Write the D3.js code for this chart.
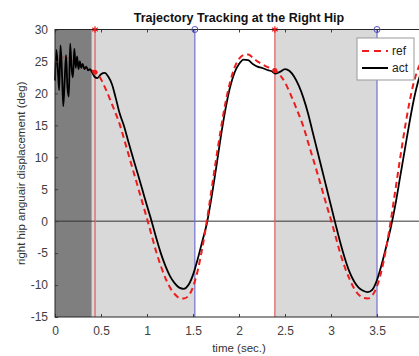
<!DOCTYPE html>
<html>
<head>
<meta charset="utf-8">
<script src="https://cdn.jsdelivr.net/npm/d3@7"></script>
<style>
  body { margin: 0; background: #fff; }
  svg { font-family: "Liberation Sans", Arial, sans-serif; }
  .tick text { fill: #404040; font-size: 12px; }
</style>
</head>
<body>
<div id="chart"></div>
<script>
/* DATA */
// reference trajectory (deg), sampled every 0.05 s
const refTime = d3.range(0, 81).map(i => i * 0.05);
const refAngle = [
  24.8, 25.5, 25.7, 25.5, 25.0, 24.6, 24.2, 23.8, 23.6, 23.2,
  22.2, 20.7, 19.0, 17.2, 15.3, 12.9, 10.4, 7.9, 5.4, 2.9,
  0.4, -2.2, -4.8, -7.0, -8.9, -10.4, -11.4, -12.0, -12.1, -11.7,
  -10.3, -7.8, -4.3, 0.0, 4.8, 9.6, 14.2, 18.3, 21.6, 24.0,
  25.4, 26.0, 26.1, 25.6, 25.0, 24.6, 24.2, 23.9, 23.5, 22.8,
  21.7, 20.2, 18.5, 16.7, 14.8, 12.4, 10.0, 7.6, 5.1, 2.6,
  0.2, -2.4, -5.0, -7.2, -9.0, -10.5, -11.5, -12.0, -12.1, -11.6,
  -10.2, -7.7, -4.2, 0.1, 4.9, 9.7, 14.3, 18.4, 21.7, 24.0, 25.4
];

// measured trajectory (deg)
const actTime = [
  0, 0.015, 0.03, 0.045, 0.06, 0.075, 0.09, 0.105, 0.12, 0.135,
  0.15, 0.165, 0.18, 0.195, 0.21, 0.225, 0.24, 0.255, 0.27, 0.285,
  0.30, 0.32, 0.34, 0.36, 0.38, 0.40, 0.43, 0.46, 0.50, 0.54,
  0.58, 0.62, 0.66, 0.70, 0.75, 0.80, 0.85, 0.90, 0.95, 1.00,
  1.05, 1.10, 1.15, 1.20, 1.25, 1.30, 1.35, 1.40, 1.45, 1.50,
  1.55, 1.60, 1.65, 1.70, 1.75, 1.80, 1.85, 1.90, 1.95, 2.00,
  2.05, 2.10, 2.15, 2.20, 2.25, 2.30, 2.35, 2.40, 2.45, 2.50,
  2.55, 2.60, 2.65, 2.70, 2.75, 2.80, 2.85, 2.90, 2.95, 3.00,
  3.05, 3.10, 3.15, 3.20, 3.25, 3.30, 3.35, 3.40, 3.45, 3.50,
  3.55, 3.60, 3.65, 3.70, 3.75, 3.80, 3.85, 3.90, 3.95, 4.00
];
const actAngle = [
  22.0, 26.8, 24.0, 20.5, 27.5, 23.5, 18.0, 22.0, 26.0, 21.0,
  19.5, 27.8, 24.0, 22.5, 27.0, 24.0, 25.8, 23.8, 25.0, 24.0,
  24.6, 23.8, 24.2, 23.6, 23.8, 23.4, 22.6, 22.4, 23.0, 23.2,
  22.6, 21.4, 19.3, 17.0, 14.9, 12.3, 9.8, 7.4, 4.9, 2.4,
  0.0, -2.6, -5.0, -7.0, -8.6, -9.7, -10.4, -10.6, -10.0, -8.4,
  -6.0, -3.2, -0.4, 3.6, 8.2, 13.0, 17.3, 20.8, 23.2, 24.6,
  25.3, 25.2, 24.6, 24.2, 24.0, 23.7, 23.5, 23.1, 23.4, 23.8,
  23.5, 22.6, 21.2, 19.3, 16.9, 14.0, 11.1, 8.2, 5.3, 2.4,
  -0.5, -3.3, -5.8, -7.9, -9.4, -10.4, -10.9, -11.1, -10.7, -9.2,
  -6.8, -4.0, -1.0, 2.6, 6.8, 11.0, 15.2, 19.0, 22.0, 24.0
];

// phase events (sec.)
const startTime = 0.4;          // end of the initial settling phase
const heelStrikes = [0.435, 2.39]; // red markers
const toeOffs = [1.52, 3.5];       // blue markers
const grayPhases = [[0.4, 1.52], [2.39, 3.5]];

const xTicks = [0, 0.5, 1, 1.5, 2, 2.5, 3, 3.5];
const yTicks = [-15, -10, -5, 0, 5, 10, 15, 20, 25, 30];

/* LAYOUT */
const width = 419,
  height = 356,
  margin = { top: 29.5, left: 55 },
  plotRight = 423,
  plotBottom = 317;

const svg = d3.select("#chart")
  .append("svg")
  .attr("width", width)
  .attr("height", height);

const xScale = d3.scaleLinear().domain([0, 4]).range([margin.left, plotRight]);
const yScale = d3.scaleLinear().domain([-15, 30]).range([plotBottom, margin.top]);

// background phases
svg.append("rect")
  .attr("x", xScale(0))
  .attr("y", yScale(30))
  .attr("width", xScale(startTime) - xScale(0))
  .attr("height", yScale(-15) - yScale(30))
  .attr("fill", "#7f7f7f");

svg.selectAll(".phase")
  .data(grayPhases)
  .join("rect")
  .attr("class", "phase")
  .attr("x", d => xScale(d[0]))
  .attr("y", yScale(30))
  .attr("width", d => xScale(d[1]) - xScale(d[0]))
  .attr("height", yScale(-15) - yScale(30))
  .attr("fill", "#d9d9d9");

// zero line
svg.append("line")
  .attr("x1", xScale(0)).attr("x2", xScale(4))
  .attr("y1", yScale(0)).attr("y2", yScale(0))
  .attr("stroke", "#333")
  .attr("stroke-width", 1);

// event lines
svg.selectAll(".hs")
  .data(heelStrikes)
  .join("line")
  .attr("class", "hs")
  .attr("x1", d => xScale(d)).attr("x2", d => xScale(d))
  .attr("y1", yScale(-15)).attr("y2", yScale(30))
  .attr("stroke", "#e05a5a")
  .attr("stroke-width", 1.2);

svg.selectAll(".to")
  .data(toeOffs)
  .join("line")
  .attr("class", "to")
  .attr("x1", d => xScale(d)).attr("x2", d => xScale(d))
  .attr("y1", yScale(-15)).attr("y2", yScale(30))
  .attr("stroke", "#7070d0")
  .attr("stroke-width", 1.2);

// lines
const line = d3.line()
  .x(d => xScale(d[0]))
  .y(d => yScale(d[1]))
  .curve(d3.curveMonotoneX);

svg.append("path")
  .datum(refTime.map((t, i) => [t, refAngle[i]]).filter(d => d[0] <= startTime + 0.05))
  .attr("d", line)
  .attr("fill", "none")
  .attr("stroke", "#b04040")
  .attr("stroke-width", 1)
  .attr("opacity", 0.8);

svg.append("path")
  .datum(actTime.map((t, i) => [t, actAngle[i]]))
  .attr("d", line)
  .attr("fill", "none")
  .attr("stroke", "#000")
  .attr("stroke-width", 1.8);

svg.append("path")
  .datum(refTime.map((t, i) => [t, refAngle[i]]).filter(d => d[0] >= startTime))
  .attr("d", line)
  .attr("fill", "none")
  .attr("stroke", "#ee1c1c")
  .attr("stroke-width", 2)
  .attr("stroke-dasharray", "6,4");

// markers on the ref curve at heel strike
const refAt = d3.scaleLinear().domain(refTime).range(refAngle);
svg.selectAll(".hsdot")
  .data(heelStrikes)
  .join("circle")
  .attr("class", "hsdot")
  .attr("cx", d => xScale(d))
  .attr("cy", d => yScale(refAt(d)))
  .attr("r", 2.5)
  .attr("fill", "#ee1c1c");

// axes (MATLAB style, ticks inside, box)
const plainFormat = d => String(d); // MATLAB uses a hyphen for minus
const xAxis = d3.axisBottom(xScale).tickValues(xTicks).tickSize(-3).tickPadding(9).tickFormat(plainFormat);
const yAxis = d3.axisLeft(yScale).tickValues(yTicks).tickSize(-3).tickPadding(7).tickFormat(plainFormat);

svg.append("g")
  .attr("transform", `translate(0,${plotBottom})`)
  .call(xAxis)
  .call(g => g.select(".domain").remove())
  .selectAll("line").attr("stroke", "#404040");

svg.append("g")
  .attr("transform", `translate(0,${margin.top})`)
  .call(d3.axisTop(xScale).tickValues(xTicks).tickSize(-3).tickFormat(""))
  .call(g => g.select(".domain").remove())
  .selectAll("line").attr("stroke", "#404040");

svg.append("g")
  .attr("transform", `translate(${margin.left},0)`)
  .call(yAxis)
  .call(g => g.select(".domain").remove())
  .selectAll("line").attr("stroke", "#404040");

// box
svg.append("rect")
  .attr("x", xScale(0))
  .attr("y", yScale(30))
  .attr("width", xScale(4) - xScale(0))
  .attr("height", yScale(-15) - yScale(30))
  .attr("fill", "none")
  .attr("stroke", "#262626")
  .attr("stroke-width", 1);

// top markers for events
svg.selectAll(".hsTop")
  .data(heelStrikes)
  .join("path")
  .attr("class", "hsTop")
  .attr("transform", d => `translate(${xScale(d)},${yScale(30)})`)
  .attr("d", d3.symbol(d3.symbolAsterisk, 30))
  .attr("stroke", "#ee1c1c")
  .attr("stroke-width", 1.2)
  .attr("fill", "none");

svg.selectAll(".toTop")
  .data(toeOffs)
  .join("circle")
  .attr("class", "toTop")
  .attr("cx", d => xScale(d))
  .attr("cy", yScale(30))
  .attr("r", 3)
  .attr("fill", "none")
  .attr("stroke", "#5050c0")
  .attr("stroke-width", 1);

// legend
const legend = svg.append("g").attr("transform", "translate(357,38)");
legend.append("rect")
  .attr("width", 57).attr("height", 42)
  .attr("fill", "#fff")
  .attr("stroke", "#999");
legend.append("line")
  .attr("x1", 5).attr("x2", 31).attr("y1", 13).attr("y2", 13)
  .attr("stroke", "#ee1c1c").attr("stroke-width", 2).attr("stroke-dasharray", "7,5");
legend.append("line")
  .attr("x1", 5).attr("x2", 31).attr("y1", 30).attr("y2", 30)
  .attr("stroke", "#000").attr("stroke-width", 2);
legend.append("text").attr("x", 35).attr("y", 17).attr("font-size", 12).attr("fill", "#222").text("ref");
legend.append("text").attr("x", 35).attr("y", 34).attr("font-size", 12).attr("fill", "#222").text("act");

// titles
svg.append("text")
  .attr("x", (xScale(0) + xScale(4)) / 2)
  .attr("y", 22)
  .attr("text-anchor", "middle")
  .attr("font-size", 12.5)
  .attr("font-weight", "bold")
  .attr("fill", "#111")
  .text("Trajectory Tracking at the Right Hip");

svg.append("text")
  .attr("x", (xScale(0) + xScale(4)) / 2)
  .attr("y", 352)
  .attr("text-anchor", "middle")
  .attr("font-size", 11.5)
  .attr("fill", "#333")
  .text("time (sec.)");

svg.append("text")
  .attr("transform", `translate(25,${(plotBottom + margin.top) / 2}) rotate(-90)`)
  .attr("text-anchor", "middle")
  .attr("font-size", 11.5)
  .attr("fill", "#333")
  .text("right hip anguair displacement (deg)");
</script>
</body>
</html>
